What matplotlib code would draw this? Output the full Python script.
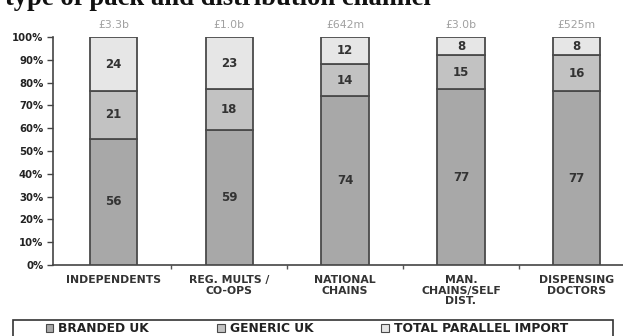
import matplotlib
matplotlib.use("Agg")
import matplotlib.pyplot as plt
from matplotlib.patches import Patch, Rectangle
from matplotlib.ticker import FixedLocator, PercentFormatter
import numpy as np

categories = ["INDEPENDENTS", "REG. MULTS /\nCO-OPS", "NATIONAL\nCHAINS",
              "MAN.\nCHAINS/SELF\nDIST.", "DISPENSING\nDOCTORS"]
market_size = ["£3.3b", "£1.0b", "£642m", "£3.0b", "£525m"]
branded_uk = [56, 59, 74, 77, 77]
generic_uk = [21, 18, 14, 15, 16]
parallel_import = [24, 23, 12, 8, 8]
series_names = ["BRANDED UK", "GENERIC UK", "TOTAL PARALLEL IMPORT"]
title = "type of pack and distribution channel"

colors = ["#a8a8a8", "#c2c2c2", "#e6e6e6"]
edge = "#4a4a4a"

W, H = 623, 336
fig = plt.figure(figsize=(W / 100, H / 100), dpi=100)
ax = fig.add_axes([53 / W, (H - 265) / H, (W - 53) / W, (265 - 37) / H])

x = np.arange(len(categories))
data = np.array([branded_uk, generic_uk, parallel_import], dtype=float)
totals = data.sum(axis=0)
shares = data / totals * 100

bottom = np.zeros(len(categories))
for i, (vals, shr) in enumerate(zip(data, shares)):
    ax.bar(x, shr, bottom=bottom, width=0.41, color=colors[i],
           edgecolor=edge, linewidth=1.3, zorder=3)
    for xi, b, s, v in zip(x, bottom, shr, vals):
        ax.text(xi, b + s / 2, f"{int(v)}", ha="center", va="center",
                fontsize=8.5, fontweight="bold", color="#333333", zorder=4)
    bottom += shr

for xi, lab in zip(x, market_size):
    ax.annotate(lab, (xi, 100), xytext=(0, 9), textcoords="offset points",
                ha="center", va="center", fontsize=7.8, color="#a0a0a0")

ax.set_xlim(-0.523, 4.40)
ax.set_ylim(0, 100)
ax.set_xticks(x)
ax.set_xticklabels(categories, fontsize=7.8, fontweight="bold", color="#333333",
                   linespacing=1.1)
ax.tick_params(axis="x", which="major", length=0, pad=7)
ax.xaxis.set_minor_locator(FixedLocator(x[:-1] + 0.5))
ax.tick_params(axis="x", which="minor", length=3, width=1, color="#555555",
               direction="out")
ax.set_yticks(np.arange(0, 101, 10))
ax.yaxis.set_major_formatter(PercentFormatter(decimals=0))
ax.tick_params(axis="y", length=4, width=1, color="#444444", pad=3,
               labelsize=7.3, labelcolor="#222222")
for lab in ax.get_yticklabels():
    lab.set_fontweight("bold")
for s in ["top", "right"]:
    ax.spines[s].set_visible(False)
for s in ["left", "bottom"]:
    ax.spines[s].set_color("#444444")
    ax.spines[s].set_linewidth(1.2)

# legend frame (bottom edge runs off the picture, as in the reference)
fig.patches.append(Rectangle((13 / W, -3 / H), 600 / W, (H - 320 + 3) / H,
                             transform=fig.transFigure, fill=False,
                             edgecolor="#333333", linewidth=1.2))
handles = [Patch(facecolor=c, edgecolor=edge, linewidth=0.8) for c in colors]
leg = fig.legend(handles, series_names, ncol=3,
                 bbox_to_anchor=(46 / W, (H - 329) / H),
                 loc="center left", frameon=False,
                 prop={"size": 8.8, "weight": "bold"}, handlelength=0.6,
                 handleheight=0.6, handletextpad=0.4, borderaxespad=0,
                 borderpad=0, columnspacing=5.6)
for t in leg.get_texts():
    t.set_color("#222222")

fig.text(5 / W, (H - 5) / H, title, fontsize=19.2, fontweight="bold",
         family="Liberation Serif", ha="left", va="baseline", color="#111111")

fig.savefig("out.png", dpi=100)
